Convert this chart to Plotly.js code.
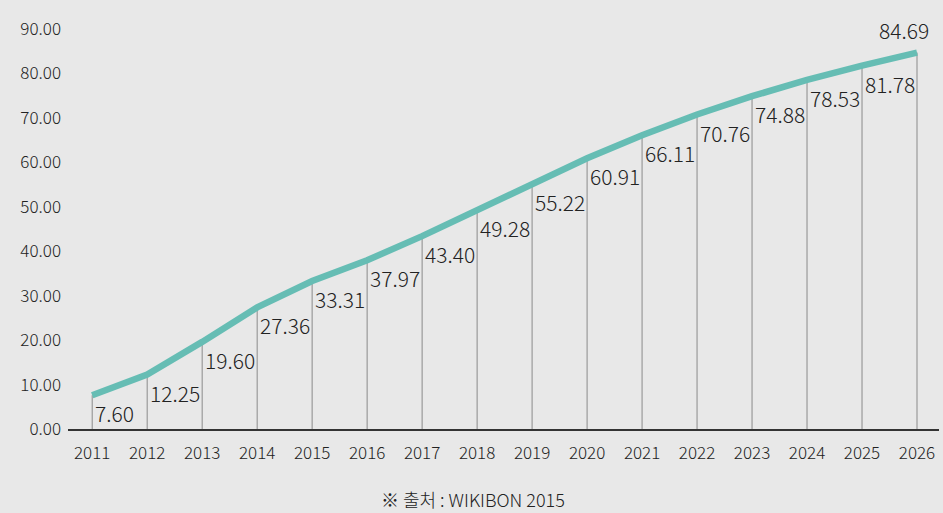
<!DOCTYPE html>
<html>
<head>
<meta charset="utf-8">
<script src="https://cdn.plot.ly/plotly-3.0.1.min.js"></script>
<style>html,body{margin:0;padding:0;background:#e8e8e8;}#chart{width:943px;height:513px;}</style>
</head>
<body>
<div id="chart"></div>
<script>
const years = ["2011","2012","2013","2014","2015","2016","2017","2018","2019","2020","2021","2022","2023","2024","2025","2026"];
const values = [7.60, 12.25, 19.60, 27.36, 33.31, 37.97, 43.40, 49.28, 55.22, 60.91, 66.11, 70.76, 74.88, 78.53, 81.78, 84.69];
const yTicks = [0, 10, 20, 30, 40, 50, 60, 70, 80, 90];
const sourceText = "※ 출처 : WIKIBON 2015";

const font = "'Noto Sans CJK KR', 'Noto Sans', sans-serif";
const last = values.length - 1;

const traces = [
  {
    x: years, y: values, type: "scatter", mode: "lines",
    line: {color: "#66bdb4", width: 6.5},
    error_y: {type: "data", symmetric: false, array: values.map(() => 0), arrayminus: values,
              color: "#8a8a8a", thickness: 1, width: 0},
    hoverinfo: "skip"
  }
];

// category axis: annotation x given as the category index
const labelAnnotations = values.map((v, i) => i === last ? {
  x: i, y: v, xref: "x", yref: "y", text: v.toFixed(2), showarrow: false,
  xanchor: "center", yanchor: "bottom", xshift: -13, yshift: 6,
  font: {family: font, size: 21, color: "#222", weight: 300}
} : {
  x: i, y: v, xref: "x", yref: "y", text: v.toFixed(2), showarrow: false,
  xanchor: "left", yanchor: "top", xshift: 1, yshift: -1,
  font: {family: font, size: 21, color: "#222", weight: 300}
});

const layout = {
  width: 943, height: 513,
  paper_bgcolor: "#e8e8e8", plot_bgcolor: "#e8e8e8",
  margin: {l: 68, r: 4, t: 29, b: 84},
  showlegend: false,
  xaxis: {
    type: "category", range: [-0.44, 15.4],
    showgrid: false, zeroline: false,
    showline: true, linecolor: "#333", linewidth: 1.5,
    ticks: "", ticklabelstandoff: 8,
    tickfont: {family: font, size: 17, color: "#222", weight: 300}
  },
  yaxis: {
    range: [0, 90], tickvals: yTicks, ticktext: yTicks.map(v => v.toFixed(2)),
    showgrid: false, zeroline: false, showline: false,
    ticks: "", ticklabelstandoff: 6,
    tickfont: {family: font, size: 17, color: "#222", weight: 300}
  },
  annotations: labelAnnotations.concat([{
    text: sourceText, xref: "paper", yref: "paper", x: 0.465, y: 0,
    yshift: -70, xanchor: "center", yanchor: "middle", showarrow: false,
    font: {family: font, size: 18, color: "#222", weight: 300}
  }])
};

Plotly.newPlot("chart", traces, layout, {displayModeBar: false, staticPlot: true});
</script>
</body>
</html>
